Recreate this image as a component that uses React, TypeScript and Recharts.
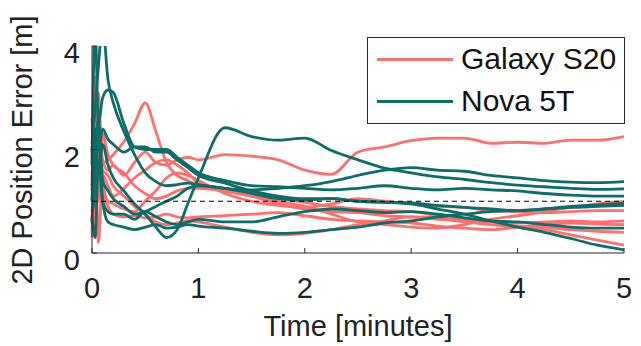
import { LineChart, Line, XAxis, YAxis, ReferenceLine } from 'recharts';

// ── Data ──────────────────────────────────────────────────────────────────────

const TIME = [
  0, 0.03, 0.06, 0.1, 0.15, 0.2, 0.3, 0.4, 0.5, 0.6, 0.7, 0.8, 0.9, 1.0,
  1.25, 1.5, 1.75, 2.0, 2.25, 2.5, 2.75, 3.0, 3.25, 3.5, 3.75, 4.0, 4.25, 4.5, 4.75, 5.0,
];

const GALAXY_1 = [2.6, 0.8, 2.8, 1.8, 1.6, 1.7, 1.5, 1.75, 1.95, 1.75, 1.7, 1.8, 1.85, 1.8, 1.9, 1.87, 1.8, 1.6, 1.52, 1.95, 2.05, 2.17, 2.22, 2.22, 2.12, 2.14, 2.12, 2.18, 2.18, 2.25];
const GALAXY_2 = [0.4, 3.4, 1.2, 1.7, 1.8, 1.9, 2.15, 2.5, 2.9, 2.35, 1.75, 1.5, 1.4, 1.3, 1.2, 1.1, 0.95, 0.85, 0.8, 0.78, 0.72, 0.7, 0.65, 0.62, 0.6, 0.58, 0.6, 0.62, 0.6, 0.62];
const GALAXY_3 = [1.2, 2.2, 0.2, 1.5, 1.3, 1.1, 1.25, 1.45, 1.6, 1.75, 1.8, 1.7, 1.55, 1.35, 1.2, 1.1, 1.0, 0.9, 0.75, 0.6, 0.55, 0.5, 0.48, 0.55, 0.65, 0.72, 0.8, 0.88, 0.95, 0.99];
const GALAXY_4 = [2.0, 1.0, 2.5, 1.4, 1.0, 0.95, 0.85, 0.8, 1.0, 1.2, 1.45, 1.55, 1.5, 1.4, 1.15, 1.0, 0.92, 0.88, 0.95, 1.05, 1.0, 0.95, 0.9, 0.88, 0.82, 0.8, 0.78, 0.8, 0.82, 0.82];
const GALAXY_5 = [0.3, 1.5, 3.1, 1.2, 0.9, 0.75, 0.7, 0.72, 0.68, 0.7, 0.75, 0.7, 0.68, 0.7, 0.72, 0.75, 0.78, 0.72, 0.65, 0.62, 0.6, 0.58, 0.52, 0.48, 0.45, 0.5, 0.55, 0.58, 0.56, 0.55];
const GALAXY_6 = [1.6, 0.5, 1.9, 1.6, 1.5, 1.3, 1.1, 0.9, 0.75, 0.6, 0.55, 0.58, 0.62, 0.6, 0.5, 0.4, 0.35, 0.38, 0.45, 0.55, 0.62, 0.7, 0.68, 0.6, 0.55, 0.5, 0.45, 0.35, 0.25, 0.15];
const GALAXY_7 = [2.2, 1.3, 1.0, 2.3, 1.9, 1.7, 1.55, 1.3, 1.15, 1.05, 1.1, 1.2, 1.25, 1.25, 1.2, 1.1, 1.05, 0.98, 0.9, 0.85, 0.82, 0.8, 0.72, 0.65, 0.6, 0.52, 0.5, 0.45, 0.42, 0.4];

const NOVA_1 = [1.3, 2.4, 1.6, 2.1, 1.7, 1.45, 1.2, 0.95, 0.75, 0.5, 0.3, 0.45, 0.95, 1.45, 2.42, 2.25, 2.18, 2.22, 1.98, 1.8, 1.64, 1.55, 1.47, 1.42, 1.36, 1.31, 1.28, 1.25, 1.23, 1.24];
const NOVA_2 = [2.0, 2.8, 3.6, 4.4, 3.35, 2.9, 2.35, 1.9, 1.55, 1.38, 1.3, 1.32, 1.35, 1.32, 1.25, 1.22, 1.25, 1.3, 1.38, 1.5, 1.6, 1.65, 1.6, 1.58, 1.5, 1.45, 1.4, 1.37, 1.36, 1.38];
const NOVA_3 = [1.7, 4.4, 2.5, 3.0, 3.15, 3.1, 2.5, 2.05, 2.0, 2.0, 2.0, 1.85, 1.7, 1.55, 1.4, 1.3, 1.28, 1.25, 1.22, 1.25, 1.3, 1.25, 1.22, 1.25, 1.22, 1.2, 1.15, 1.12, 1.1, 1.1];
const NOVA_4 = [0.6, 1.8, 2.6, 1.4, 1.2, 1.05, 0.9, 0.75, 0.8, 0.9, 1.0, 1.1, 1.25, 1.3, 1.25, 1.15, 1.05, 1.02, 1.05, 1.0, 0.98, 0.97, 0.92, 0.88, 0.85, 0.82, 0.85, 0.9, 0.93, 0.96];
const NOVA_5 = [0.7, 0.3, 1.8, 1.0, 0.8, 0.75, 0.75, 0.65, 0.8, 0.7, 0.6, 0.55, 0.6, 0.65, 0.6, 0.6, 0.7, 0.8, 0.85, 0.82, 0.78, 0.8, 0.75, 0.68, 0.62, 0.6, 0.55, 0.5, 0.48, 0.48];
const NOVA_6 = [1.0, 2.2, 2.0, 2.4, 2.2, 2.1, 1.95, 2.05, 2.05, 1.95, 1.95, 1.8, 1.65, 1.5, 1.35, 1.2, 1.1, 1.05, 1.05, 1.0, 0.98, 0.95, 0.85, 0.75, 0.62, 0.5, 0.4, 0.28, 0.15, 0.06];
const NOVA_7 = [0.8, 1.2, 2.4, 1.0, 0.6, 0.55, 0.5, 0.45, 0.5, 0.55, 0.48, 0.5, 0.55, 0.52, 0.48, 0.42, 0.38, 0.4, 0.45, 0.5, 0.58, 0.62, 0.7, 0.75, 0.8, 0.82, 0.85, 0.88, 0.9, 0.92];

const GALAXY = [GALAXY_1, GALAXY_2, GALAXY_3, GALAXY_4, GALAXY_5, GALAXY_6, GALAXY_7];
const NOVA = [NOVA_1, NOVA_2, NOVA_3, NOVA_4, NOVA_5, NOVA_6, NOVA_7];

const X_TICKS = [0, 1, 2, 3, 4, 5];
const Y_TICKS = [0, 2, 4];

// ── Style ─────────────────────────────────────────────────────────────────────

const FONT = '"Liberation Sans", Arial, Helvetica, sans-serif';
const GALAXY_COLOR = '#ff6f6f';
const NOVA_COLOR = '#0b6e68';
const AXIS = '#262626';

const rows = TIME.map((t, i) => {
  const r: Record<string, number> = { t };
  GALAXY.forEach((s, k) => { r[`g${k}`] = s[i]; });
  NOVA.forEach((s, k) => { r[`n${k}`] = s[i]; });
  return r;
});

// ── Ticks (inward tick marks, MATLAB style) ──────────────────────────────────

function XTick({ x, y, payload }: any) {
  return (
    <g>
      <line x1={x} y1={y} x2={x} y2={y - 5} stroke={AXIS} strokeWidth={1} />
      <text x={x} y={y + 45} textAnchor="middle" fill="#222" fontSize={29} fontFamily={FONT}>
        {payload.value}
      </text>
    </g>
  );
}

function YTick({ x, y, payload }: any) {
  return (
    <g>
      <line x1={x} y1={y} x2={x + 5} y2={y} stroke={AXIS} strokeWidth={1} />
      <text x={x - 12} y={y + 17} textAnchor="end" fill="#222" fontSize={29} fontFamily={FONT}>
        {payload.value}
      </text>
    </g>
  );
}

function LegendBox() {
  const item = (label: string, color: string) => (
    <div style={{ display: 'flex', alignItems: 'center', height: 42 }}>
      <div style={{ width: 76, height: 3, background: color, marginLeft: 9, marginRight: 8 }} />
      <span style={{ fontSize: 30, color: '#111', fontFamily: FONT }}>{label}</span>
    </div>
  );
  return (
    <div style={{
      position: 'absolute', top: 37, left: 367, width: 256, height: 85,
      border: `1px solid ${AXIS}`, background: '#fff',
    }}>
      {item('Galaxy S20', GALAXY_COLOR)}
      {item('Nova 5T', NOVA_COLOR)}
    </div>
  );
}

export default function App() {
  return (
    <div style={{ width: 641, height: 346, background: '#fff', position: 'relative' }}>
      <style>{'body{margin:0}'}</style>
      <LineChart width={641} height={346} data={rows} margin={{ top: 46, right: 17, bottom: 0, left: 0 }}>
        <XAxis
          dataKey="t" type="number" domain={[0, 5]} ticks={X_TICKS}
          height={93} tickSize={0} tickMargin={0} tickLine={false}
          axisLine={{ stroke: AXIS, strokeWidth: 1 }}
          tick={<XTick />}
          label={{ content: () => (
            <text x={358} y={336} textAnchor="middle" fill="#222" fontSize={29} fontFamily={FONT}>Time [minutes]</text>
          ) }}
        />
        <YAxis
          type="number" domain={[0, 4]} ticks={Y_TICKS} allowDataOverflow
          width={92} tickSize={0} tickMargin={0} tickLine={false}
          axisLine={{ stroke: AXIS, strokeWidth: 1 }}
          tick={<YTick />}
          label={{ content: () => (
            <text x={32} y={150} transform="rotate(-90 32 150)" textAnchor="middle" fill="#222" fontSize={29} fontFamily={FONT}>
              2D Position Error [m]
            </text>
          ) }}
        />
        {GALAXY.map((_, k) => (
          <Line key={`g${k}`} type="monotone" dataKey={`g${k}`} stroke={GALAXY_COLOR} strokeWidth={2.8} dot={false}
            isAnimationActive={false} />
        ))}
        {NOVA.map((_, k) => (
          <Line key={`n${k}`} type="monotone" dataKey={`n${k}`} stroke={NOVA_COLOR} strokeWidth={2.8} dot={false}
            isAnimationActive={false} />
        ))}
        <ReferenceLine y={1} stroke="#000" strokeWidth={1} strokeDasharray="5 4" />
      </LineChart>
      <LegendBox />
    </div>
  );
}
